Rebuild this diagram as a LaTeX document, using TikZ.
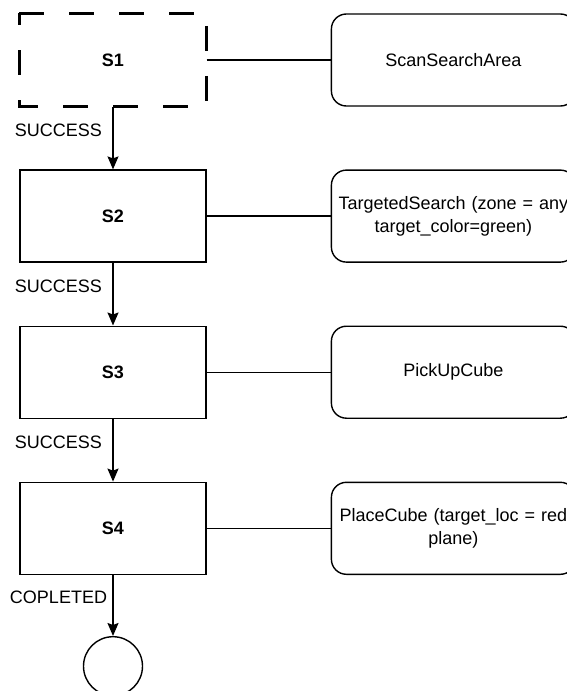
\documentclass[tikz,border=0pt]{standalone}
\usepackage{fontspec}
\setmainfont{Liberation Sans}
\usetikzlibrary{positioning,arrows.meta}

\begin{document}
\begin{tikzpicture}[x=1pt, y=1pt,
  state/.style={
    rectangle, draw, line width=1.4pt,
    minimum width=186pt, minimum height=92pt, font=\fontsize{18}{22}\selectfont\bfseries
  },
  action/.style={
    rectangle, draw, line width=1.4pt, rounded corners=15pt,
    minimum width=244pt, minimum height=92pt, text width=236pt, align=center,
    font=\fontsize{18}{23.5}\selectfont
  },
  final/.style={circle, draw, line width=1.4pt, minimum size=59pt, inner sep=0pt},
  arr/.style={-{Stealth[length=13pt, width=11pt, inset=2pt]}, line width=1.4pt},
  link/.style={line width=1.4pt},
  lbl/.style={font=\fontsize{18}{22}\selectfont, xshift=-54.5pt, pos=0.37},
  node distance=62.7pt
]
  \useasboundingbox (0,0) rectangle (567,-691);

  % states
  \node[state, draw=none] (s1) at (113,-60) {S1};
  \node[state, below=of s1] (s2) {S2};
  \node[state, below=of s2] (s3) {S3};
  \node[state, below=of s3] (s4) {S4};
  \node[final, below=61pt of s4] (done) {};

  % dashed outline of the first state
  \draw[line width=3pt, dash pattern=on 25pt off 25pt]
    (s1.north west) -- (s1.north east) -- (s1.south east) -- (s1.south west) -- cycle;

  % actions
  \node[action, right=124pt of s1] (scan)  {ScanSearchArea};
  \node[action, right=124pt of s2] (seek)  {TargetedSearch (zone = any\\target\_color=green)};
  \node[action, right=124pt of s3] (pick)  {PickUpCube};
  \node[action, right=124pt of s4] (place) {PlaceCube (target\_loc = red\\plane)};

  \draw[link] (s1) -- (scan);
  \draw[link] (s2) -- (seek);
  \draw[link] (s3) -- (pick);
  \draw[link] (s4) -- (place);

  % transitions
  \draw[arr] (s1) -- node[lbl] {SUCCESS} (s2);
  \draw[arr] (s2) -- node[lbl] {SUCCESS} (s3);
  \draw[arr] (s3) -- node[lbl] {SUCCESS} (s4);
  \draw[arr] (s4) -- node[lbl] {COPLETED} (done);
\end{tikzpicture}
\end{document}
